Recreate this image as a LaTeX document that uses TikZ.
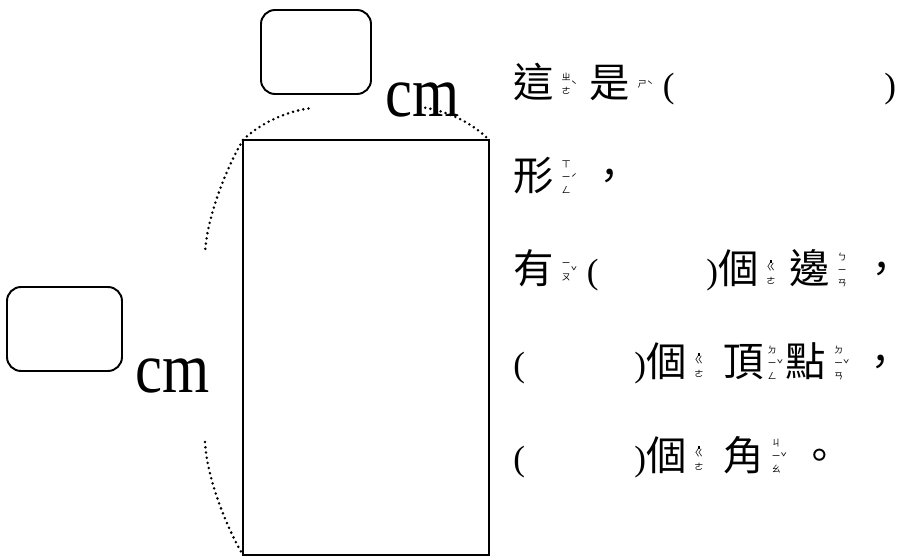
\documentclass[tikz,border=0pt]{standalone}
\usepackage{fontspec}
\setmainfont{Liberation Serif}
\newfontfamily\cjk{Noto Sans CJK TC}
\newfontfamily\cjkhalf[CharacterWidth=Half]{Noto Sans CJK TC}
\newsavebox\zybox
\newcommand\hz[1]{{\cjk\fontsize{23}{23}\selectfont #1}}
\newcommand\pa[1]{{\fontsize{20}{20}\selectfont #1}}
\newcommand\unit{\scalebox{1}[1.18]{\fontsize{34.5}{34.5}\selectfont cm}}
\newcommand\qd{\rule{1.6pt}{1.6pt}\\[-3pt]}
\newcommand\dou{{\cjkhalf\fontsize{23}{23}\selectfont ，}}
\NewDocumentCommand\zy{O{4pt}O{4pt}mm}{%
  \sbox\zybox{\cjk\fontsize{5.2}{7.6}\selectfont\begin{tabular}[b]{@{}c@{}}#3\end{tabular}}%
  \hspace{#1}\raisebox{\dimexpr 8.6pt-0.5\ht\zybox\relax}{\usebox\zybox}%
  \raisebox{5pt}{\cjk\fontsize{6}{6}\selectfont #4}\hspace{#2}}

\begin{document}
\begin{tikzpicture}[x=0.02cm,y=-0.02cm,
    txt/.style={inner sep=0pt,anchor=base west},
    blank/.style={line width=1.1pt,rounded corners=8pt},
    arcdots/.style={line width=1.6pt,line cap=round,dash pattern=on 0pt off 3pt}]
    \useasboundingbox (0,0) rectangle (900,557);
    \coordinate (A) at (243,140);
    \coordinate (B) at (489,140);
    \coordinate (C) at (489,555);
    \coordinate (D) at (243,555);
    \coordinate (t1) at (312,108);
    \coordinate (t2) at (420,107);
    \coordinate (s1) at (205,253);
    \coordinate (s2) at (205,442);
    \draw [line width=1.6pt] (A) -- (B) -- (C) -- (D) -- cycle;
    \draw [arcdots] (A) .. controls (258,125) and (285,111) .. (t1);
    \draw [arcdots] (t2) .. controls (445,110) and (472,122) .. (B);
    \draw [arcdots] (A) .. controls (228,165) and (207,215) .. (s1);
    \draw [arcdots] (s2) .. controls (207,480) and (228,530) .. (D);
    \draw [blank] (261,10) rectangle (371,94);
    \draw [blank] (7,287) rectangle (122,371);
    \node [txt] (cmtop) at (385,117) {\unit};
    \node [txt] (cmleft) at (135,393) {\unit};
    \node [txt] (l1a) at (513,98) {\hz{這}\zy[4.5pt][7pt]{ㄓ\\ㄜ}{ˋ}\hz{是}\zy[4.5pt][5.5pt]{ㄕ}{ˋ}\pa{(}};
    \node [txt] (l1b) at (884,98) {\pa{)}};
    \node [txt] (l2) at (513,191) {\hz{形}\zy[4.5pt][7pt]{ㄒ\\ㄧ\\ㄥ}{ˊ}\dou};
    \node [txt] (l3a) at (513,284) {\hz{有}\zy[4.5pt][5.5pt]{ㄧ\\ㄡ}{ˇ}\pa{(}};
    \node [txt] (l3b) at (706,284) {\pa{)}\hz{個}\zy[4.5pt][7.8pt]{\qd ㄍ\\ㄜ}{}\hz{邊}\zy[4.5pt][8.5pt]{ㄅ\\ㄧ\\ㄢ}{}\dou};
    \node [txt] (l4a) at (513,377) {\pa{(}};
    \node [txt] (l4b) at (634,377) {\pa{)}\hz{個}\zy[4.5pt][11.5pt]{\qd ㄍ\\ㄜ}{}\hz{頂}\zy[2pt][1.5pt]{ㄉ\\ㄧ\\ㄥ}{ˇ}\hz{點}\zy[4.5pt][6pt]{ㄉ\\ㄧ\\ㄢ}{ˇ}\dou};
    \node [txt] (l5a) at (513,470) {\pa{(}};
    \node [txt] (l5b) at (634,470) {\pa{)}\hz{個}\zy[4.5pt][11.2pt]{\qd ㄍ\\ㄜ}{}\hz{角}\zy[4.5pt][7.2pt]{ㄐ\\ㄧ\\ㄠ}{ˇ}\hz{。}};
\end{tikzpicture}
\end{document}
